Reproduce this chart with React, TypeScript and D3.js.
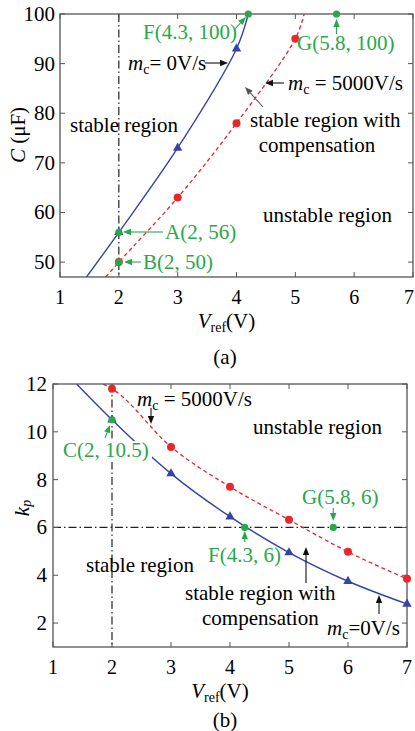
import React from 'react';
import * as d3 from 'd3';

// ---- (a) C vs Vref ----
const xTicks = [1, 2, 3, 4, 5, 6, 7];
const capTicks = [50, 60, 70, 80, 90, 100];
const capBlueX = [1.45, 2, 3, 4, 4.2];
const capBlueY = [47, 56, 73, 93, 100];
const capBlueMarkX = [2, 3, 4];
const capBlueMarkY = [56, 73, 93];
const capRedX = [1.78, 2, 3, 4, 5, 5.15];
const capRedY = [47, 50, 63, 78, 95, 100];
const capRedMarkX = [2, 3, 4, 5];
const capRedMarkY = [50, 63, 78, 95];
const capGreenX = [2, 2, 4.2, 5.7];
const capGreenY = [56, 50, 100, 100];

// ---- (b) kp vs Vref ----
const kpTicks = [2, 4, 6, 8, 10, 12];
const kpBlueX = [1.4, 2, 3, 4, 5, 6, 7];
const kpBlueY = [12, 10.5, 8.25, 6.45, 4.95, 3.75, 2.8];
const kpRedX = [1.85, 2, 3, 4, 5, 6, 7];
const kpRedY = [12, 11.8, 9.37, 7.7, 6.32, 4.98, 3.85];
const kpGreenX = [2, 4.25, 5.75];
const kpGreenY = [10.5, 6, 6];

const BLUE = '#3443a6';
const RED = '#e8262b';
const GREEN = '#27a84a';
const FRAME = '#555';
const FONT = 'Liberation Serif, Times New Roman, serif';
const FS = 21;
const TFS = 20;

type Sc = d3.ScaleLinear<number, number>;

const zip = (xs: number[], ys: number[]) => xs.map((x, i) => [x, ys[i]] as [number, number]);

function Frame({ x, y, yt, ylabRight, xlabY, tickLabY }: { x: Sc; y: Sc; yt: number[]; ylabRight: number; xlabY: number; tickLabY: number }) {
  const [x0, x1] = x.range();
  const [y0, y1] = y.range();
  const tl = 5;
  return (
    <g>
      <rect x={x0} y={y1} width={x1 - x0} height={y0 - y1} fill="none" stroke={FRAME} strokeWidth={1.3} />
      {xTicks.map((t) => (
        <g key={'x' + t}>
          <line x1={x(t)} x2={x(t)} y1={y0} y2={y0 - tl} stroke={FRAME} />
          <line x1={x(t)} x2={x(t)} y1={y1} y2={y1 + tl} stroke={FRAME} />
          <text x={Math.min(x(t), 409)} y={tickLabY} textAnchor="middle" fontSize={TFS}>{t}</text>
        </g>
      ))}
      {yt.map((t) => (
        <g key={'y' + t}>
          <line x1={x0} x2={x0 + tl} y1={y(t)} y2={y(t)} stroke={FRAME} />
          <line x1={x1} x2={x1 - tl} y1={y(t)} y2={y(t)} stroke={FRAME} />
          <text x={ylabRight} y={y(t) + 7} textAnchor="end" fontSize={FS}>{t}</text>
        </g>
      ))}
      <text x={(x0 + x1) / 2 - 10} y={xlabY} textAnchor="middle" fontSize={FS}>
        <tspan fontStyle="italic">V</tspan>
        <tspan fontSize={14} dy={4}>ref</tspan>
        <tspan dy={-4}>(V)</tspan>
      </text>
    </g>
  );
}

function Arrow({ x1, y1, x2, y2, color }: { x1: number; y1: number; x2: number; y2: number; color: string }) {
  const a = Math.atan2(y2 - y1, x2 - x1);
  const L = 8, W = 3.2;
  const bx = x2 - L * Math.cos(a), by = y2 - L * Math.sin(a);
  const px = -Math.sin(a) * W, py = Math.cos(a) * W;
  return (
    <g>
      <line x1={x1} y1={y1} x2={bx} y2={by} stroke={color} strokeWidth={1.1} />
      <path d={`M${x2},${y2}L${bx + px},${by + py}L${bx - px},${by - py}Z`} fill={color} />
    </g>
  );
}

function Mc({ x, y, rest }: { x: number; y: number; rest: string }) {
  return (
    <text x={x} y={y} fontSize={FS}>
      <tspan fontStyle="italic">m</tspan>
      <tspan fontSize={14} dy={4}>c</tspan>
      <tspan dy={-4}>{rest}</tspan>
    </text>
  );
}

export default function App() {
  const xa = d3.scaleLinear().domain([1, 7]).range([60, 413]);
  const ya = d3.scaleLinear().domain([47, 100]).range([277, 14]);
  const xb = d3.scaleLinear().domain([1, 7]).range([53, 407]);
  const yb = d3.scaleLinear().domain([1, 12]).range([647, 384]);

  const la = d3.line<[number, number]>().x((d) => xa(d[0])).y((d) => ya(d[1])).curve(d3.curveCatmullRom);
  const lb = d3.line<[number, number]>().x((d) => xb(d[0])).y((d) => yb(d[1])).curve(d3.curveMonotoneX);
  const tri = d3.symbol(d3.symbolTriangle, 38)();
  const dashDot = '8 3 1.5 3';

  return (
    <svg width={415} height={731} style={{ position: 'absolute', left: 0, top: 0, background: '#fff', fontFamily: FONT }}>
      <defs>
        <clipPath id="ca"><rect x={60} y={14} width={353} height={263} /></clipPath>
        <clipPath id="cb"><rect x={53} y={384} width={354} height={263} /></clipPath>
      </defs>

      {/* ---------- (a) ---------- */}
      <g clipPath="url(#ca)">
        <line x1={xa(2)} x2={xa(2)} y1={ya(100)} y2={ya(47)} stroke="#222" strokeWidth={1.2} strokeDasharray={dashDot} />
        <path d={la(zip(capRedX, capRedY)) || ''} fill="none" stroke={RED} strokeWidth={1.3} strokeDasharray="4 3" />
        <path d={la(zip(capBlueX, capBlueY)) || ''} fill="none" stroke={BLUE} strokeWidth={1.4} />
      </g>
      <Frame x={xa} y={ya} yt={capTicks} ylabRight={55} xlabY={328} tickLabY={304} />
      {capRedMarkX.map((v, i) => (
        <circle key={'ra' + i} cx={xa(v)} cy={ya(capRedMarkY[i])} r={4} fill={RED} />
      ))}
      {capBlueMarkX.map((v, i) => (
        <path key={'ba' + i} d={tri || ''} transform={`translate(${xa(v)},${ya(capBlueMarkY[i])})`} fill={BLUE} />
      ))}
      {capGreenX.map((v, i) => (
        <circle key={'ga' + i} cx={xa(v)} cy={ya(capGreenY[i])} r={3.6} fill={GREEN} />
      ))}
      <text x={18} y={135} transform="rotate(-90 18 135)" textAnchor="middle" dominantBaseline="central" fontSize={FS}>
        <tspan fontStyle="italic">C</tspan> (μF)
      </text>

      <text x={143} y={39} fontSize={FS} fill={GREEN}>F(4.3, 100)</text>
      <Arrow x1={234} y1={30} x2={246} y2={17} color={GREEN} />
      <text x={297} y={50} fontSize={FS} fill={GREEN}>G(5.8, 100)</text>
      <Arrow x1={xa(5.7)} y1={34} x2={xa(5.7)} y2={19} color={GREEN} />
      <text x={165} y={239} fontSize={FS} fill={GREEN}>A(2, 56)</text>
      <Arrow x1={163} y1={232} x2={123} y2={232} color={GREEN} />
      <text x={143} y={269} fontSize={FS} fill={GREEN}>B(2, 50)</text>
      <Arrow x1={141} y1={262} x2={124} y2={262} color={GREEN} />
      <Mc x={128} y={70} rest="= 0V/s" />
      <Arrow x1={205} y1={63} x2={228} y2={63} color="#111" />
      <Mc x={288} y={90} rest=" = 5000V/s" />
      <Arrow x1={284} y1={83} x2={265} y2={83} color="#111" />
      <text x={250} y={127} fontSize={FS}>stable region with</text>
      <text x={317} y={152} fontSize={FS} textAnchor="middle">compensation</text>
      <Arrow x1={263} y1={107} x2={245} y2={87} color="#555" />
      <text x={70} y={132} fontSize={FS}>stable region</text>
      <text x={263} y={222} fontSize={FS}>unstable region</text>
      <text x={225} y={364} fontSize={FS} textAnchor="middle">(a)</text>

      {/* ---------- (b) ---------- */}
      <g clipPath="url(#cb)">
        <line x1={xb(2)} x2={xb(2)} y1={yb(12)} y2={yb(1)} stroke="#222" strokeWidth={1.2} strokeDasharray={dashDot} />
        <line x1={xb(1)} x2={xb(7)} y1={yb(6)} y2={yb(6)} stroke="#222" strokeWidth={1.2} strokeDasharray={dashDot} />
        <path d={lb(zip(kpRedX, kpRedY)) || ''} fill="none" stroke={RED} strokeWidth={1.3} strokeDasharray="4 3" />
        <path d={lb(zip(kpBlueX, kpBlueY)) || ''} fill="none" stroke={BLUE} strokeWidth={1.4} />
      </g>
      <Frame x={xb} y={yb} yt={kpTicks} ylabRight={47} xlabY={698} tickLabY={674} />
      {kpRedX.slice(1).map((v, i) => (
        <circle key={'rb' + i} cx={xb(v)} cy={yb(kpRedY[i + 1])} r={4} fill={RED} />
      ))}
      {kpBlueX.slice(1).map((v, i) => (
        <path key={'bb' + i} d={tri || ''} transform={`translate(${xb(v)},${yb(kpBlueY[i + 1])})`} fill={BLUE} />
      ))}
      <rect x={60} y={441} width={92} height={21} fill="#fff" />
      {kpGreenX.map((v, i) => (
        <circle key={'gb' + i} cx={xb(v)} cy={yb(kpGreenY[i])} r={3.6} fill={GREEN} />
      ))}
      <text x={22} y={508} transform="rotate(-90 22 508)" textAnchor="middle" dominantBaseline="central" fontSize={FS}>
        <tspan fontStyle="italic">k</tspan>
        <tspan fontSize={14} dy={4} fontStyle="italic">p</tspan>
      </text>

      <text x={63} y={457} fontSize={FS} fill={GREEN}>C(2, 10.5)</text>
      <Arrow x1={105} y1={438} x2={110} y2={425} color={GREEN} />
      <text x={302} y={504} fontSize={FS} fill={GREEN}>G(5.8, 6)</text>
      <Arrow x1={xb(5.75)} y1={508} x2={xb(5.75)} y2={521} color={GREEN} />
      <text x={208} y={562} fontSize={FS} fill={GREEN}>F(4.3, 6)</text>
      <Arrow x1={xb(4.25)} y1={542} x2={xb(4.25)} y2={531} color={GREEN} />
      <Mc x={137} y={406} rest=" = 5000V/s" />
      <Arrow x1={151} y1={408} x2={151} y2={424} color="#111" />
      <text x={253} y={434} fontSize={FS}>unstable region</text>
      <text x={86} y={572} fontSize={FS}>stable region</text>
      <text x={185} y={600} fontSize={FS}>stable region with</text>
      <text x={202} y={625} fontSize={FS}>compensation</text>
      <Arrow x1={306} y1={583} x2={306} y2={547} color="#111" />
      <Mc x={327} y={635} rest="=0V/s" />
      <Arrow x1={379} y1={614} x2={379} y2={595} color="#111" />
      <text x={225} y={727} fontSize={FS} textAnchor="middle">(b)</text>
    </svg>
  );
}
